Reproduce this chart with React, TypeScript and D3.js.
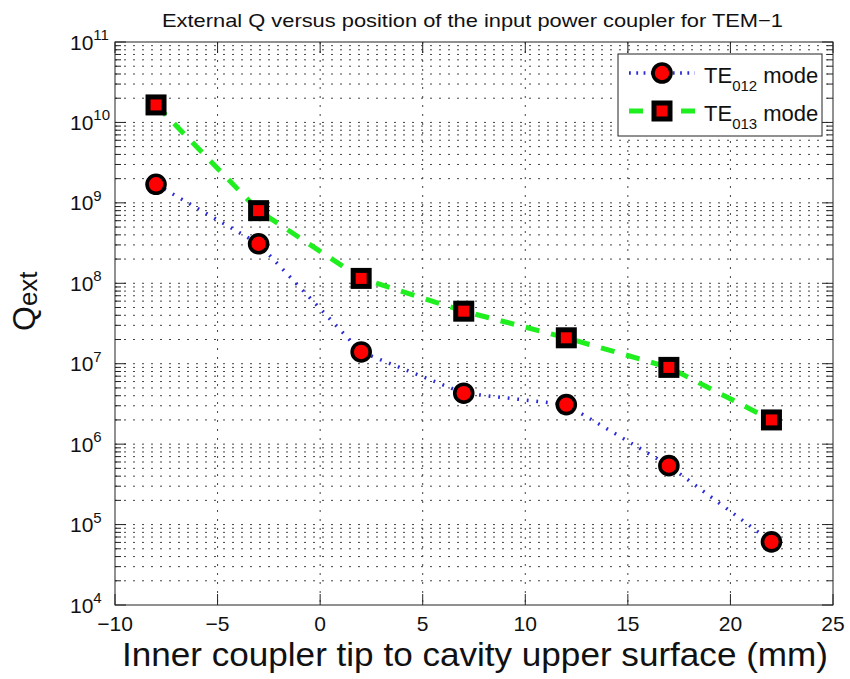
import React from "react";
import * as d3 from "d3";

// ---- data ----
const positions = [-8, -3, 2, 7, 12, 17, 22];
const qTE012 = [1.7e9, 3.1e8, 1.4e7, 4.3e6, 3.1e6, 5.4e5, 6.1e4];
const qTE013 = [1.65e10, 8.0e8, 1.15e8, 4.5e7, 2.1e7, 9.0e6, 2.0e6];
const xTicks = [-10, -5, 0, 5, 10, 15, 20, 25];
const yExponents = [4, 5, 6, 7, 8, 9, 10, 11];
const titleText = "External Q versus position of the input power coupler for TEM\u22121";
const xLabelText = "Inner coupler tip to cavity upper surface (mm)";

const W = 850;
const H = 679;
const FONT = "'Liberation Sans', Arial, Helvetica, sans-serif";

export default function App() {
  const left = 115, right = 833, top = 42, bottom = 605;
  const x = d3.scaleLinear().domain([-10, 25]).range([left, right]);
  const y = d3.scaleLog().domain([1e4, 1e11]).range([bottom, top]);

  const minorVals: number[] = [];
  for (let e = 4; e < 11; e++) for (let m = 2; m <= 9; m++) minorVals.push(m * Math.pow(10, e));

  const line = d3
    .line<[number, number]>()
    .x((d) => x(d[0]))
    .y((d) => y(d[1]));
  const s012 = positions.map((p, i) => [p, qTE012[i]] as [number, number]);
  const s013 = positions.map((p, i) => [p, qTE013[i]] as [number, number]);

  const gridStyle = { stroke: "#444", strokeWidth: 1, strokeDasharray: "2 7", fill: "none" };
  const blue = "#2b2bd6";
  const green = "#1fee1f";
  const majorLen = 11, minorLen = 6;

  const circle = (cx: number, cy: number, key?: any) => (
    <circle key={key} cx={cx} cy={cy} r={9} fill="#ff0000" stroke="#000" strokeWidth={3.6} />
  );
  const square = (cx: number, cy: number, key?: any) => (
    <rect key={key} x={cx - 8} y={cy - 8} width={16} height={16} fill="#ff0000" stroke="#000" strokeWidth={5} />
  );

  const lgX = 618, lgY = 54, lgW = 204, lgH = 82;
  const row1 = 73, row2 = 111;
  const lx0 = 629, lx1 = 695, lmid = 662;

  return (
    <svg width={W} height={H} style={{ position: "absolute", left: 0, top: 0, background: "#fff" }} fontFamily={FONT}>
      <rect x={0} y={0} width={W} height={H} fill="#fff" />
      {/* grid */}
      <g>
        {xTicks.slice(1, -1).map((t) => (
          <line key={"gx" + t} x1={x(t)} x2={x(t)} y1={top} y2={bottom} style={gridStyle} />
        ))}
        {yExponents.slice(1, -1).map((e) => (
          <line key={"gy" + e} x1={left} x2={right} y1={y(Math.pow(10, e))} y2={y(Math.pow(10, e))} style={gridStyle} />
        ))}
        {minorVals.map((v, i) => (
          <line key={"gm" + i} x1={left} x2={right} y1={y(v)} y2={y(v)} style={gridStyle} />
        ))}
      </g>
      {/* series lines */}
      <path d={line(s012) || ""} fill="none" stroke={blue} strokeWidth={3.5} strokeDasharray="1.8 7.8" />
      <path d={line(s013) || ""} fill="none" stroke={green} strokeWidth={5} strokeDasharray="14 12" />
      {/* axes box and ticks */}
      <rect x={left} y={top} width={right - left} height={bottom - top} fill="none" stroke="#222" strokeWidth={1} />
      <g stroke="#222" strokeWidth={1}>
        {xTicks.map((t) => (
          <g key={"tx" + t}>
            <line x1={x(t)} x2={x(t)} y1={bottom} y2={bottom - majorLen} />
            <line x1={x(t)} x2={x(t)} y1={top} y2={top + majorLen} />
          </g>
        ))}
        {yExponents.map((e) => (
          <g key={"ty" + e}>
            <line x1={left} x2={left + majorLen} y1={y(Math.pow(10, e))} y2={y(Math.pow(10, e))} />
            <line x1={right} x2={right - majorLen} y1={y(Math.pow(10, e))} y2={y(Math.pow(10, e))} />
          </g>
        ))}
        {minorVals.map((v, i) => (
          <g key={"tm" + i}>
            <line x1={left} x2={left + minorLen} y1={y(v)} y2={y(v)} />
            <line x1={right} x2={right - minorLen} y1={y(v)} y2={y(v)} />
          </g>
        ))}
      </g>
      {/* markers */}
      {s012.map((d, i) => circle(x(d[0]), y(d[1]), "c" + i))}
      {s013.map((d, i) => square(x(d[0]), y(d[1]), "s" + i))}
      {/* tick labels */}
      <g fontSize={21} fill="#111">
        {xTicks.map((t) => (
          <text key={"lx" + t} x={x(t)} y={631} textAnchor="middle">
            {t < 0 ? "\u2212" + Math.abs(t) : String(t)}
          </text>
        ))}
        {yExponents.map((e) => (
          <text key={"ly" + e} x={70} y={y(Math.pow(10, e)) + 7.5}>
            10
            <tspan fontSize={15} dy={-9.5}>
              {e}
            </tspan>
          </text>
        ))}
      </g>
      {/* title & labels */}
      <text x={162} y={27} fontSize={19} fill="#111" textLength={621} lengthAdjust="spacingAndGlyphs">
        {titleText}
      </text>
      <text x={122} y={666} fontSize={33} fill="#111" textLength={706} lengthAdjust="spacingAndGlyphs">
        {xLabelText}
      </text>
      <text transform="translate(35,331) rotate(-90)" fontSize={32} fill="#111">
        Q
        <tspan fontSize={26} dy={2}>
          ext
        </tspan>
      </text>
      {/* legend */}
      <rect x={lgX} y={lgY} width={lgW} height={lgH} fill="#fff" stroke="#222" strokeWidth={1} />
      <line x1={lx0} x2={lx1} y1={row1} y2={row1} stroke={blue} strokeWidth={3.5} strokeDasharray="1.8 5.5" />
      {circle(lmid, row1)}
      <line x1={lx0} x2={lx1} y1={row2} y2={row2} stroke={green} strokeWidth={5} strokeDasharray="14 12" />
      {square(lmid, row2)}
      <g fontSize={22} fill="#111">
        <text x={704} y={83}>
          TE<tspan fontSize={15} dy={8}>012</tspan>
          <tspan dy={-8}> mode</tspan>
        </text>
        <text x={704} y={121}>
          TE<tspan fontSize={15} dy={8}>013</tspan>
          <tspan dy={-8}> mode</tspan>
        </text>
      </g>
    </svg>
  );
}
